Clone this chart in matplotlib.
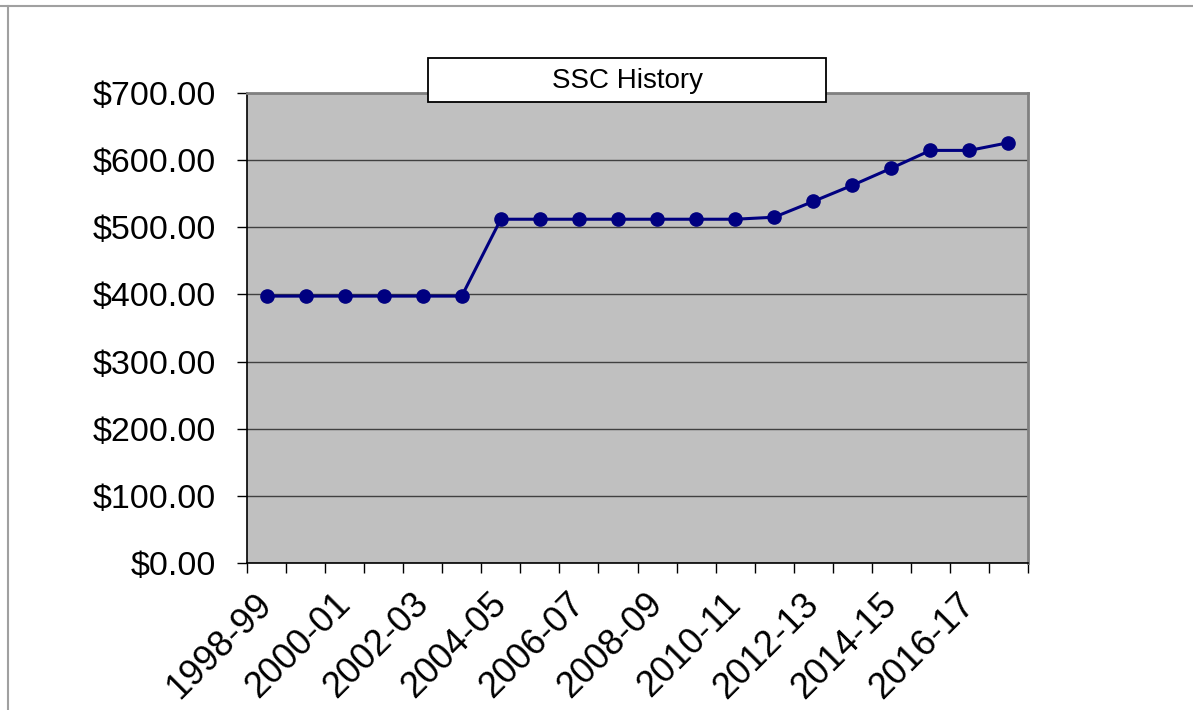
import numpy as np
import matplotlib.pyplot as plt
import matplotlib.transforms as mtransforms
from matplotlib.patches import Rectangle
from matplotlib.lines import Line2D
from matplotlib.ticker import FuncFormatter

plt.rcParams['font.family'] = ['Liberation Sans', 'DejaVu Sans']

# school years 1998-99 .. 2017-18
years = ['%d-%02d' % (y, (y + 1) % 100) for y in range(1998, 2018)]
ssc = [397.5, 397.5, 397.5, 397.5, 397.5, 397.5,
       512, 512, 512, 512, 512, 512, 512,
       515, 538.5, 562.5, 588, 614.5, 614.5, 626]
yticks = [0, 100, 200, 300, 400, 500, 600, 700]

W, H = 1193, 710
fig = plt.figure(figsize=(W / 100, H / 100), dpi=100)
ax = fig.add_axes([247 / W, 1 - 563 / H, 781 / W, 470 / H])
ax.set_facecolor('#C0C0C0')

x = np.arange(len(years))
ax.plot(x, ssc, color='#000080', lw=2.2, marker='o', markersize=9.5, zorder=3)

ax.set_xlim(-0.5, len(years) - 0.5)
ax.set_ylim(0, 700)
ax.set_yticks(yticks)
ax.yaxis.set_major_formatter(FuncFormatter(lambda v, p: '${:,.2f}'.format(v)))
ax.grid(axis='y', color='#404040', lw=1)
ax.set_axisbelow(True)

# category boundary ticks, labels on every other category
ax.set_xticks(np.arange(-0.5, len(years), 1))
ax.set_xticklabels([])
ax.set_xticks(x[::2], minor=True)
ax.set_xticklabels(years[::2], minor=True)
ax.tick_params(axis='x', which='major', length=7.2, width=1, direction='out')
ax.tick_params(axis='x', which='minor', length=0, pad=17, labelsize=26)
shift = mtransforms.ScaledTranslation(-12 / 100, 0, fig.dpi_scale_trans)
for lab in ax.get_xticklabels(minor=True):
    lab.set_rotation(45)
    lab.set_ha('right')
    lab.set_va('top')
    lab.set_rotation_mode('anchor')
    lab.set_transform(lab.get_transform() + shift)
ax.tick_params(axis='y', length=7.2, width=1, pad=15, labelsize=24.5, colors='#000000')

for s in ['left', 'bottom']:
    ax.spines[s].set_color('black')
    ax.spines[s].set_linewidth(1.2)
for s in ['top', 'right']:
    ax.spines[s].set_color('#808080')
    ax.spines[s].set_linewidth(2)

# title box
fig.patches.append(Rectangle((428 / W, 1 - 102 / H), 398 / W, 44 / H,
                             transform=fig.transFigure, facecolor='white',
                             edgecolor='black', lw=1.3, zorder=5))
fig.text(627 / W, 1 - 81 / H, 'SSC History', ha='center', va='center',
         fontsize=20, zorder=6)

# outer frame lines
fig.lines.append(Line2D([0, 1], [1 - 6 / H, 1 - 6 / H], transform=fig.transFigure,
                        color='#A0A0A0', lw=1.5))
fig.lines.append(Line2D([8 / W, 8 / W], [0, 1 - 6 / H], transform=fig.transFigure,
                        color='#A0A0A0', lw=1.5))

fig.savefig('out.png', dpi=100)
